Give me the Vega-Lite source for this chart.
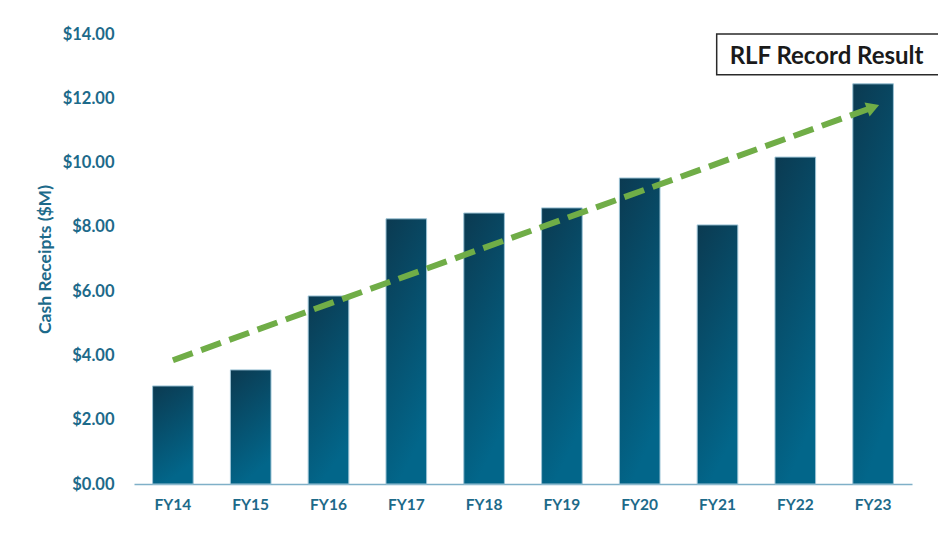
{
  "$schema": "https://vega.github.io/schema/vega-lite/v6.json",
  "width": 778,
  "height": 450,
  "autosize": "none",
  "padding": {"left": 134, "top": 34, "right": 26, "bottom": 57},
  "background": "white",
  "config": {"view": {"stroke": null}, "font": "Lato"},
  "datasets": {
    "bars": [
      {"fy": "FY14", "v": 3.05},
      {"fy": "FY15", "v": 3.55},
      {"fy": "FY16", "v": 5.85},
      {"fy": "FY17", "v": 8.25},
      {"fy": "FY18", "v": 8.43},
      {"fy": "FY19", "v": 8.59},
      {"fy": "FY20", "v": 9.52},
      {"fy": "FY21", "v": 8.06},
      {"fy": "FY22", "v": 10.17},
      {"fy": "FY23", "v": 12.45}
    ],
    "trend": [
      {"fy": "FY14", "v": 3.85},
      {"fy": "FY23", "v": 11.72}
    ],
    "head": [
      {"fy": "FY23", "v": 11.72}
    ],
    "note": [
      {"label": "RLF Record Result", "v": 13.3, "top": 14, "bottom": 12.73}
    ]
  },
  "layer": [
    {
      "data": {"name": "bars"},
      "mark": {
        "type": "bar",
        "stroke": "#9cc3d5",
        "strokeWidth": 1,
        "color": {
          "gradient": "linear",
          "x1": 0, "y1": 0, "x2": 0.3, "y2": 1,
          "stops": [
            {"offset": 0, "color": "#0b3a51"},
            {"offset": 1, "color": "#02668a"}
          ]
        }
      },
      "encoding": {
        "x": {
          "field": "fy",
          "type": "nominal",
          "sort": null,
          "scale": {"paddingInner": 0.478, "paddingOuter": 0.239},
          "axis": {
            "title": null,
            "labelAngle": 0,
            "ticks": false,
            "domainColor": "#7fb0c8",
            "domainWidth": 1.5,
            "labelColor": "#1d6a8a",
            "labelFont": "Lato",
            "labelFontWeight": "bold",
            "labelFontSize": 15.5,
            "labelPadding": 13
          }
        },
        "y": {
          "field": "v",
          "type": "quantitative",
          "scale": {"domain": [0, 14], "nice": false},
          "axis": {
            "title": "Cash Receipts ($M)",
            "titleColor": "#1d6a8a",
            "titleFont": "Lato",
            "titleFontWeight": "bold",
            "titleFontSize": 17.5,
            "titlePadding": 8,
            "values": [0, 2, 4, 6, 8, 10, 12, 14],
            "format": "$.2f",
            "grid": false,
            "domain": false,
            "ticks": false,
            "labelColor": "#1d6a8a",
            "labelFont": "Lato",
            "labelFontWeight": "bold",
            "labelFontSize": 16.5,
            "labelPadding": 20
          }
        }
      }
    },
    {
      "data": {"name": "trend"},
      "mark": {"type": "line", "color": "#70ad47", "strokeWidth": 6, "strokeDash": [21, 9], "strokeCap": "butt"},
      "encoding": {
        "x": {"field": "fy", "type": "nominal", "sort": null},
        "y": {"field": "v", "type": "quantitative"}
      }
    },
    {
      "data": {"name": "head"},
      "mark": {"type": "point", "shape": "triangle-right", "filled": true, "color": "#70ad47", "opacity": 1, "size": 220, "angle": -20},
      "encoding": {
        "x": {"field": "fy", "type": "nominal", "sort": null},
        "y": {"field": "v", "type": "quantitative"}
      }
    },
    {
      "data": {"name": "note"},
      "mark": {"type": "rect", "fill": "white", "stroke": "#2a2a2a", "strokeWidth": 1.5, "x2Offset": 50},
      "encoding": {
        "x": {"datum": "FY21", "type": "nominal", "bandPosition": 0.48},
        "x2": {"datum": "FY23", "bandPosition": 1},
        "y": {"field": "top", "type": "quantitative"},
        "y2": {"field": "bottom"}
      }
    },
    {
      "data": {"name": "note"},
      "mark": {"type": "text", "align": "left", "baseline": "middle", "font": "Lato", "fontWeight": "bold", "fontSize": 24, "color": "#1a1a1a"},
      "encoding": {
        "x": {"datum": "FY21", "type": "nominal", "bandPosition": 0.8},
        "y": {"field": "v", "type": "quantitative"},
        "text": {"field": "label"}
      }
    }
  ]
}
